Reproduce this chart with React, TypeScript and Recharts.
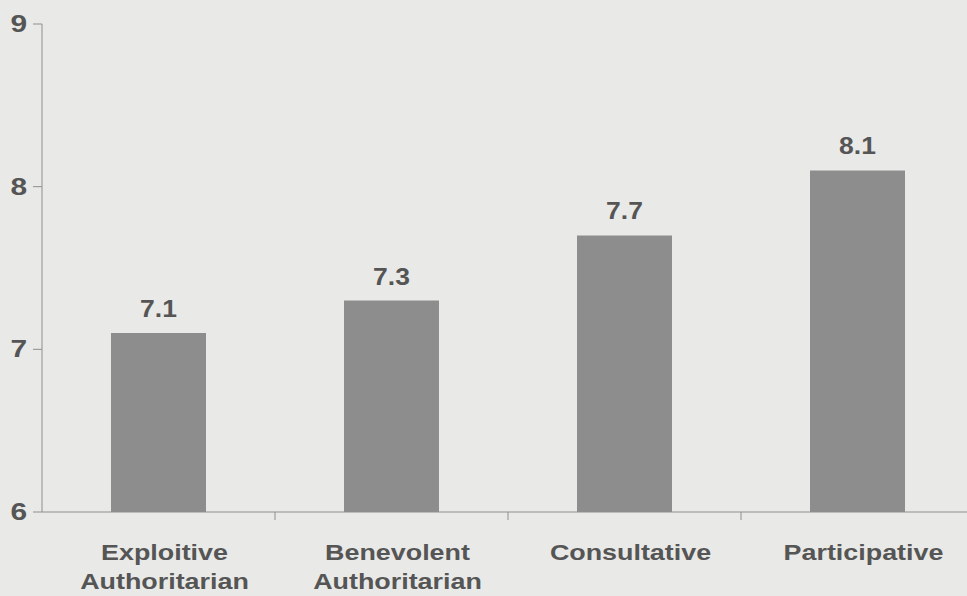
import { BarChart, Bar, XAxis, YAxis, LabelList } from 'recharts';

// values
const styles = ['Exploitive Authoritarian', 'Benevolent Authoritarian', 'Consultative', 'Participative'];
const scores = [7.1, 7.3, 7.7, 8.1];
const yTicks = [6, 7, 8, 9];

const data = styles.map((name, i) => ({ name, score: scores[i] }));

const TEXT = '#555555';
const AXIS = '#8f8f8f';
const FONT = '"Liberation Sans", Arial, sans-serif';
const CHART_W = 974;
const Y_W = 42;
const BAND = (CHART_W - Y_W) / styles.length;

// the scan looks stretched sideways, so text gets a small horizontal scale
const Stretched = ({ x, y, anchor, size = 21, sx = 1.25, children }: any) => (
  <text
    transform={`translate(${x},${y}) scale(${sx},1)`}
    textAnchor={anchor}
    fill={TEXT}
    fontFamily={FONT}
    fontWeight="bold"
    fontSize={size}
  >
    {children}
  </text>
);

const YTick = ({ x, y, payload }: any) => (
  <Stretched x={x - 4} y={y + 8} anchor="end" size={23} sx={1.3}>{payload.value}</Stretched>
);

const XTick = ({ x, y, payload, index }: any) => {
  const lines = String(payload.value).split(' ');
  return (
    <g>
      {index < styles.length - 1 && (
        <line x1={x + BAND / 2} x2={x + BAND / 2} y1={y - 8} y2={y} stroke={AXIS} />
      )}
      {lines.map((l, i) => (
        <Stretched key={i} x={x + 6} y={y + 40 + i * 29} anchor="middle" size={21.5}>{l}</Stretched>
      ))}
    </g>
  );
};

const ValueLabel = ({ x, y, width, value }: any) => (
  <Stretched x={x + width / 2} y={y - 16} anchor="middle" size={23} sx={1.15}>{value}</Stretched>
);

export default function App() {
  return (
    <div style={{ position: 'absolute', left: 0, top: 0, width: 967, height: 596, overflow: 'hidden', background: '#e9e9e7' }}>
      <BarChart width={CHART_W} height={596} data={data} margin={{ top: 24, right: 0, left: 0, bottom: 0 }}>
        <XAxis
          dataKey="name"
          height={84}
          tickLine={false}
          axisLine={{ stroke: AXIS }}
          tick={<XTick />}
          interval={0}
        />
        <YAxis
          width={Y_W}
          domain={[6, 9]}
          ticks={yTicks}
          tickSize={9}
          tickLine={{ stroke: AXIS }}
          axisLine={{ stroke: AXIS }}
          tick={<YTick />}
        />
        <Bar dataKey="score" fill="#8d8d8d" barSize={95} isAnimationActive={false}>
          <LabelList dataKey="score" content={<ValueLabel />} />
        </Bar>
      </BarChart>
    </div>
  );
}
